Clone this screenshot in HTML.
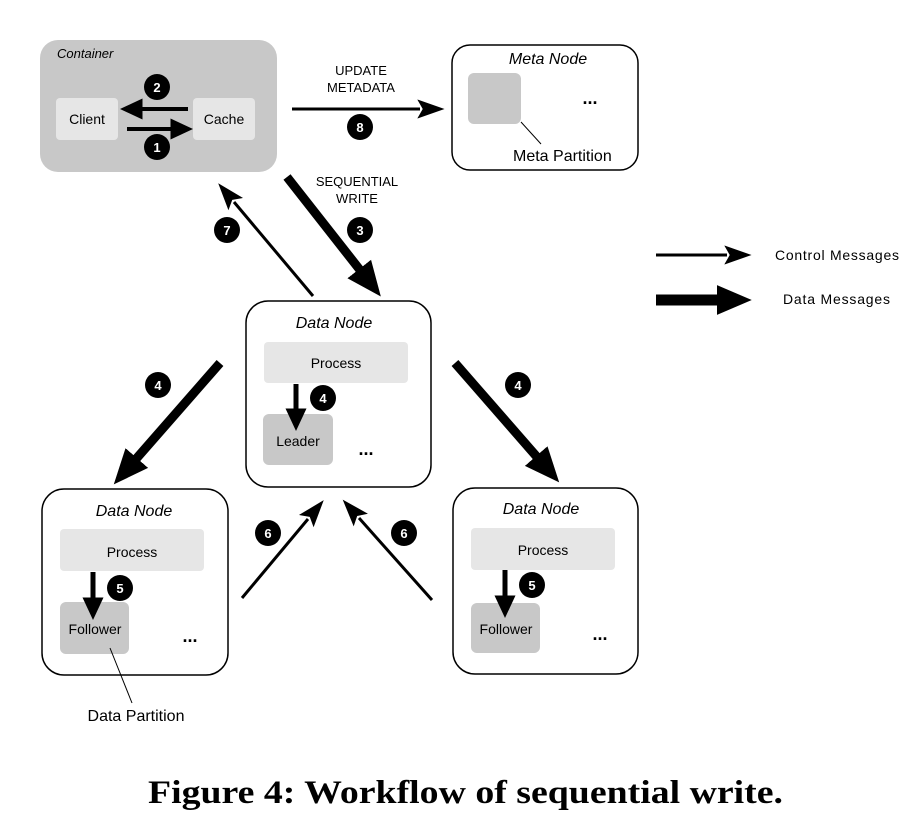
<!DOCTYPE html>
<html><head><meta charset="utf-8"><style>
body{margin:0;background:#fff}
svg{display:block}
text{font-family:"Liberation Sans",Arial,sans-serif}
.b{fill:#fff;font-weight:bold;font-size:13px;text-anchor:middle}
</style></head><body>
<svg width="901" height="818" viewBox="0 0 901 818" xmlns="http://www.w3.org/2000/svg">
<defs>
<marker id="thin" markerUnits="userSpaceOnUse" markerWidth="30" markerHeight="30" refX="2" refY="0" viewBox="0 -10 22 20" orient="auto"><path d="M0,-7 L20,0 L0,7 L4,0 z" fill="#000"/></marker>
<marker id="mid" markerUnits="userSpaceOnUse" markerWidth="30" markerHeight="30" refX="1" refY="0" viewBox="0 -10 18 20" orient="auto"><path d="M0,-7 L15,0 L0,7 z" fill="#000"/></marker>
<marker id="thick" markerUnits="userSpaceOnUse" markerWidth="40" markerHeight="40" refX="1" refY="0" viewBox="0 -15 32 30" orient="auto"><path d="M0,-12 L28,0 L0,12 z" fill="#000"/></marker>
</defs>

<rect x="40" y="40" width="237" height="132" rx="18" fill="#c8c8c8"/>
<text x="57" y="58" font-size="13" font-style="italic">Container</text>
<rect x="56" y="98" width="62" height="42" rx="4" fill="#e6e6e6"/>
<text x="87" y="124" font-size="14" text-anchor="middle">Client</text>
<rect x="193" y="98" width="62" height="42" rx="4" fill="#e6e6e6"/>
<text x="224" y="124" font-size="14" text-anchor="middle">Cache</text>
<line x1="188" y1="109" x2="141" y2="109" stroke="#000" stroke-width="4" marker-end="url(#mid)"/>
<line x1="127" y1="129" x2="172" y2="129" stroke="#000" stroke-width="4" marker-end="url(#mid)"/>
<circle cx="157" cy="87" r="13"/><text class="b" x="157" y="92">2</text>
<circle cx="157" cy="147" r="13"/><text class="b" x="157" y="152">1</text>

<rect x="452" y="45" width="186" height="125" rx="18" fill="#fff" stroke="#000" stroke-width="1.5"/>
<text x="548" y="64" font-size="16" font-style="italic" text-anchor="middle">Meta Node</text>
<rect x="468" y="73" width="53" height="51" rx="6" fill="#c8c8c8"/>
<text x="590" y="104" font-size="18" font-weight="bold" text-anchor="middle">...</text>
<line x1="521" y1="122" x2="541" y2="144" stroke="#000" stroke-width="1"/>
<text x="513" y="161" font-size="16">Meta Partition</text>

<line x1="292" y1="109" x2="420" y2="109" stroke="#000" stroke-width="3" marker-end="url(#thin)"/>
<text x="361" y="75" font-size="13" text-anchor="middle">UPDATE</text>
<text x="361" y="92" font-size="13" text-anchor="middle">METADATA</text>
<circle cx="360" cy="127" r="13"/><text class="b" x="360" y="132">8</text>

<text x="357" y="186" font-size="13" text-anchor="middle">SEQUENTIAL</text>
<text x="357" y="203" font-size="13" text-anchor="middle">WRITE</text>
<line x1="287" y1="177" x2="360" y2="270" stroke="#000" stroke-width="9" marker-end="url(#thick)"/>
<circle cx="360" cy="230" r="13"/><text class="b" x="360" y="235">3</text>
<line x1="313" y1="296" x2="234" y2="202" stroke="#000" stroke-width="3" marker-end="url(#thin)"/>
<circle cx="227" cy="230" r="13"/><text class="b" x="227" y="235">7</text>

<line x1="656" y1="255" x2="727" y2="255" stroke="#000" stroke-width="3" marker-end="url(#thin)"/>
<text x="775" y="260" font-size="14" textLength="124" lengthAdjust="spacing">Control  Messages</text>
<line x1="656" y1="300" x2="718" y2="300" stroke="#000" stroke-width="11" marker-end="url(#thick)"/>
<text x="783" y="304" font-size="14" textLength="107" lengthAdjust="spacing">Data  Messages</text>

<rect x="246" y="301" width="185" height="186" rx="22" fill="#fff" stroke="#000" stroke-width="1.5"/>
<text x="334" y="328" font-size="16" font-style="italic" text-anchor="middle">Data Node</text>
<rect x="264" y="342" width="144" height="41" rx="4" fill="#e6e6e6"/>
<text x="336" y="368" font-size="14" text-anchor="middle">Process</text>
<rect x="263" y="414" width="70" height="51" rx="6" fill="#c8c8c8"/>
<text x="298" y="446" font-size="14" text-anchor="middle">Leader</text>
<line x1="296" y1="384" x2="296" y2="410" stroke="#000" stroke-width="5" marker-end="url(#mid)"/>
<circle cx="323" cy="398" r="13"/><text class="b" x="323" y="403">4</text>
<text x="366" y="455" font-size="18" font-weight="bold" text-anchor="middle">...</text>

<rect x="42" y="489" width="186" height="186" rx="22" fill="#fff" stroke="#000" stroke-width="1.5"/>
<text x="134" y="516" font-size="16" font-style="italic" text-anchor="middle">Data Node</text>
<rect x="60" y="529" width="144" height="42" rx="4" fill="#e6e6e6"/>
<text x="132" y="557" font-size="14" text-anchor="middle">Process</text>
<rect x="60" y="602" width="69" height="52" rx="6" fill="#c8c8c8"/>
<text x="95" y="634" font-size="14" text-anchor="middle">Follower</text>
<line x1="93" y1="572" x2="93" y2="599" stroke="#000" stroke-width="5" marker-end="url(#mid)"/>
<circle cx="120" cy="588" r="13"/><text class="b" x="120" y="593">5</text>
<text x="190" y="642" font-size="18" font-weight="bold" text-anchor="middle">...</text>
<line x1="110" y1="648" x2="132" y2="703" stroke="#000" stroke-width="1"/>
<text x="136" y="721" font-size="16" text-anchor="middle">Data Partition</text>

<rect x="453" y="488" width="185" height="186" rx="22" fill="#fff" stroke="#000" stroke-width="1.5"/>
<text x="541" y="514" font-size="16" font-style="italic" text-anchor="middle">Data Node</text>
<rect x="471" y="528" width="144" height="42" rx="4" fill="#e6e6e6"/>
<text x="543" y="555" font-size="14" text-anchor="middle">Process</text>
<rect x="471" y="603" width="69" height="50" rx="6" fill="#c8c8c8"/>
<text x="506" y="634" font-size="14" text-anchor="middle">Follower</text>
<line x1="505" y1="570" x2="505" y2="597" stroke="#000" stroke-width="5" marker-end="url(#mid)"/>
<circle cx="532" cy="585" r="13"/><text class="b" x="532" y="590">5</text>
<text x="600" y="640" font-size="18" font-weight="bold" text-anchor="middle">...</text>

<line x1="220" y1="363" x2="136" y2="459" stroke="#000" stroke-width="9" marker-end="url(#thick)"/>
<circle cx="158" cy="385" r="13"/><text class="b" x="158" y="390">4</text>
<line x1="455" y1="363" x2="537" y2="457" stroke="#000" stroke-width="9" marker-end="url(#thick)"/>
<circle cx="518" cy="385" r="13"/><text class="b" x="518" y="390">4</text>

<line x1="242" y1="598" x2="308" y2="519" stroke="#000" stroke-width="3" marker-end="url(#thin)"/>
<circle cx="268" cy="533" r="13"/><text class="b" x="268" y="538">6</text>
<line x1="432" y1="600" x2="359" y2="518" stroke="#000" stroke-width="3" marker-end="url(#thin)"/>
<circle cx="404" cy="533" r="13"/><text class="b" x="404" y="538">6</text>

<text x="148" y="803" font-size="33" font-weight="bold" textLength="635" lengthAdjust="spacingAndGlyphs" style="font-family:'Liberation Serif',serif">Figure 4: Workflow of sequential write.</text>
</svg>
</body></html>
